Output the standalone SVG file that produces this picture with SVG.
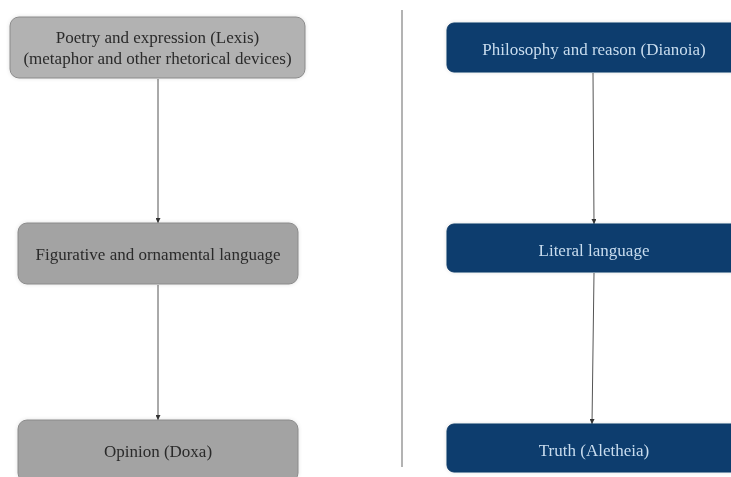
<svg xmlns="http://www.w3.org/2000/svg" width="731" height="477" viewBox="0 0 731 477">
<defs>
<marker id="ah" viewBox="0 0 6 6" refX="6" refY="3" markerWidth="5" markerHeight="5" orient="auto" markerUnits="userSpaceOnUse">
<path d="M0,0 L6,3 L0,6 z" fill="#333"/>
</marker>
<filter id="sh" x="-5%" y="-20%" width="110%" height="140%">
<feGaussianBlur in="SourceAlpha" stdDeviation="2"/>
<feComponentTransfer><feFuncA type="linear" slope="0.12"/></feComponentTransfer>
<feMerge><feMergeNode/><feMergeNode in="SourceGraphic"/></feMerge>
</filter>
</defs>
<style>
.grey{fill:#a3a3a3;stroke:#8a8a8a;stroke-width:1}
.grey1{fill:#b2b2b2;stroke:#8a8a8a;stroke-width:1}
.navy{fill:#0b3d6e;stroke:#0a3866;stroke-width:1}
.tg{font-family:"Liberation Serif","Times New Roman",serif;font-size:17px;fill:#2a2a2a;text-anchor:middle;dominant-baseline:central}
.tn{font-family:"Liberation Serif","Times New Roman",serif;font-size:17px;fill:#c9dcee;text-anchor:middle;dominant-baseline:central}
.conn{stroke:#555;stroke-width:1;fill:none}
</style>
<rect width="731" height="477" fill="#ffffff"/>
<g id="divider"><line x1="402" y1="10" x2="402" y2="467" stroke="#9a9a9a" stroke-width="1.5"/></g>
<g id="connectors">
<line class="conn" x1="158" y1="79" x2="158" y2="223" marker-end="url(#ah)"/>
<line class="conn" x1="158" y1="285" x2="158" y2="420" marker-end="url(#ah)"/>
<line class="conn" x1="593" y1="73" x2="594" y2="224" marker-end="url(#ah)"/>
<line class="conn" x1="594" y1="273" x2="592" y2="424" marker-end="url(#ah)"/>
</g>
<g id="lexis" filter="url(#sh)">
<rect class="grey1" x="10" y="17" width="295" height="61" rx="9"/>
<text class="tg" x="157.5" y="37">Poetry and expression (Lexis)</text>
<text class="tg" x="157.5" y="58">(metaphor and other rhetorical devices)</text>
</g>
<g id="figurative" filter="url(#sh)">
<rect class="grey" x="18" y="223" width="280" height="61" rx="9"/>
<text class="tg" x="158" y="254">Figurative and ornamental language</text>
</g>
<g id="doxa" filter="url(#sh)">
<rect class="grey" x="18" y="420" width="280" height="62" rx="9"/>
<text class="tg" x="158" y="451">Opinion (Doxa)</text>
</g>
<g id="dianoia" filter="url(#sh)">
<rect class="navy" x="447" y="23" width="294" height="49" rx="7"/>
<text class="tn" x="594" y="49">Philosophy and reason (Dianoia)</text>
</g>
<g id="literal" filter="url(#sh)">
<rect class="navy" x="447" y="224" width="294" height="48" rx="7"/>
<text class="tn" x="594" y="250">Literal language</text>
</g>
<g id="aletheia" filter="url(#sh)">
<rect class="navy" x="447" y="424" width="294" height="48" rx="7"/>
<text class="tn" x="594" y="450">Truth (Aletheia)</text>
</g>
</svg>
